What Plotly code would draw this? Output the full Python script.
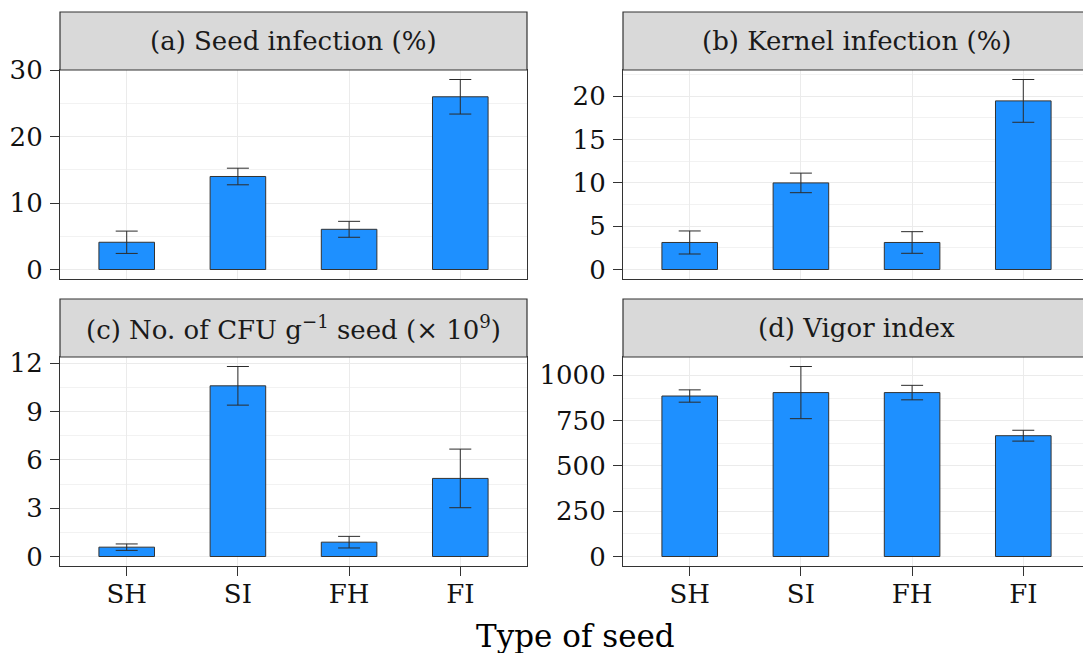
import plotly.graph_objects as go

categories = ["SH", "SI", "FH", "FI"]

seed_infection = [4.1, 14.0, 6.05, 26.0]
seed_infection_err = [1.68, 1.25, 1.2, 2.6]

kernel_infection = [3.12, 10.0, 3.12, 19.47]
kernel_infection_err = [1.33, 1.13, 1.25, 2.47]

cfu = [0.58, 10.6, 0.89, 4.85]
cfu_err = [0.2, 1.2, 0.36, 1.82]

vigor = [886, 905, 905, 667]
vigor_err = [34, 144, 40, 30]

panel_titles = [
    "(a) Seed infection (%)",
    "(b) Kernel infection (%)",
    "(c) No. of CFU g<sup>\u22121</sup> seed (\u00d7 10<sup>9</sup>)",
    "(d) Vigor index",
]
major_steps = [10, 5, 3, 250]
x_title = "Type of seed"

W, H = 1083, 653
FONT = "DejaVu Serif"
INK = "#333333"


def fx(p):
    return p / W


def fy(p):
    return 1 - p / H


# pixel boxes (left, right, top, bottom) of plotting areas
boxes = [
    (60, 527, 70, 279),
    (623, 1083, 70, 279),
    (60, 527, 357, 566),
    (623, 1083, 357, 566),
]
strip_h = 58
spacing_px = (527 - 60) / 4.2

fig = go.Figure()
series = [
    (seed_infection, seed_infection_err),
    (kernel_infection, kernel_infection_err),
    (cfu, cfu_err),
    (vigor, vigor_err),
]

layout_axes = {}
shapes = []
annotations = []
for i, ((vals, errs), box, step, title) in enumerate(zip(series, boxes, major_steps, panel_titles)):
    n = i + 1
    xa = "x" if n == 1 else f"x{n}"
    ya = "y" if n == 1 else f"y{n}"
    fig.add_trace(go.Bar(
        x=categories, y=vals, width=0.5,
        marker=dict(color="#1E90FF", line=dict(color=INK, width=1)),
        error_y=dict(type="data", array=errs, visible=True, color="#2b2b2b", thickness=1, width=11),
        xaxis=xa, yaxis=ya, showlegend=False, hoverinfo="skip",
    ))
    left, right, top, bottom = box
    top_val = max(v + e for v, e in zip(vals, errs))
    pad = 0.05 * top_val
    right_panel = right >= W
    x_hi = 3.6 if not right_panel else 3.6 - (left + 4.2 * spacing_px - W) / spacing_px
    bottom_row = n >= 3
    xkey = "xaxis" if n == 1 else f"xaxis{n}"
    ykey = "yaxis" if n == 1 else f"yaxis{n}"
    layout_axes[xkey] = dict(
        domain=[fx(left), fx(right)], anchor=ya, range=[-0.6, x_hi],
        type="category", categoryorder="array", categoryarray=categories,
        showgrid=True, gridcolor="#EBEBEB", gridwidth=1.4,
        showline=True, linecolor=INK, linewidth=1.2, mirror=True,
        ticks="outside" if bottom_row else "", ticklen=9, tickwidth=1.4, tickcolor=INK,
        ticklabelstandoff=-4,
        showticklabels=bottom_row, tickfont=dict(family=FONT, size=26, color="#111111"),
        automargin=False, fixedrange=True,
    )
    layout_axes[ykey] = dict(
        domain=[fy(bottom), fy(top)], anchor=xa, range=[-pad, top_val + pad],
        tickmode="linear", tick0=0, dtick=step,
        showgrid=True, gridcolor="#EBEBEB", gridwidth=1.4, zeroline=False,
        minor=dict(tickmode="linear", tick0=0, dtick=step / 2, showgrid=True,
                   gridcolor="#F2F2F2", gridwidth=0.8, ticks=""),
        showline=True, linecolor=INK, linewidth=1.2, mirror=not right_panel,
        ticks="outside", ticklen=9, tickwidth=1.4, tickcolor=INK,
        ticklabelstandoff=2,
        tickfont=dict(family=FONT, size=26, color="#111111"),
        automargin=False, fixedrange=True,
    )
    # strip
    shapes.append(dict(
        type="rect", xref="paper", yref="paper",
        x0=fx(left), x1=fx(right) + (0.01 if right_panel else 0),
        y0=fy(top), y1=fy(top - strip_h),
        fillcolor="#D9D9D9", line=dict(color=INK, width=1.2), layer="above",
    ))
    annotations.append(dict(
        text=title, xref="paper", yref="paper",
        x=fx(left + 2.1 * spacing_px), y=fy(top - strip_h / 2),
        xanchor="center", yanchor="middle", showarrow=False,
        font=dict(family=FONT, size=26, color="#1A1A1A"),
    ))

annotations.append(dict(
    text=x_title, xref="paper", yref="paper",
    x=fx(60 + (623 - 60) / 2 + 2.1 * spacing_px), y=fy(636),
    xanchor="center", yanchor="middle", showarrow=False,
    font=dict(family=FONT, size=31, color="#000000"),
))

fig.update_layout(
    width=W, height=H, autosize=False,
    margin=dict(l=0, r=0, t=0, b=0, pad=0, autoexpand=False),
    paper_bgcolor="white", plot_bgcolor="white",
    bargap=0.5, showlegend=False,
    shapes=shapes, annotations=annotations,
    **layout_axes,
)

fig.write_html(
    "out.html",
    config={"responsive": False, "displayModeBar": False},
    post_script="document.body.style.margin='0';document.body.style.padding='0';document.body.style.overflow='hidden';",
)
